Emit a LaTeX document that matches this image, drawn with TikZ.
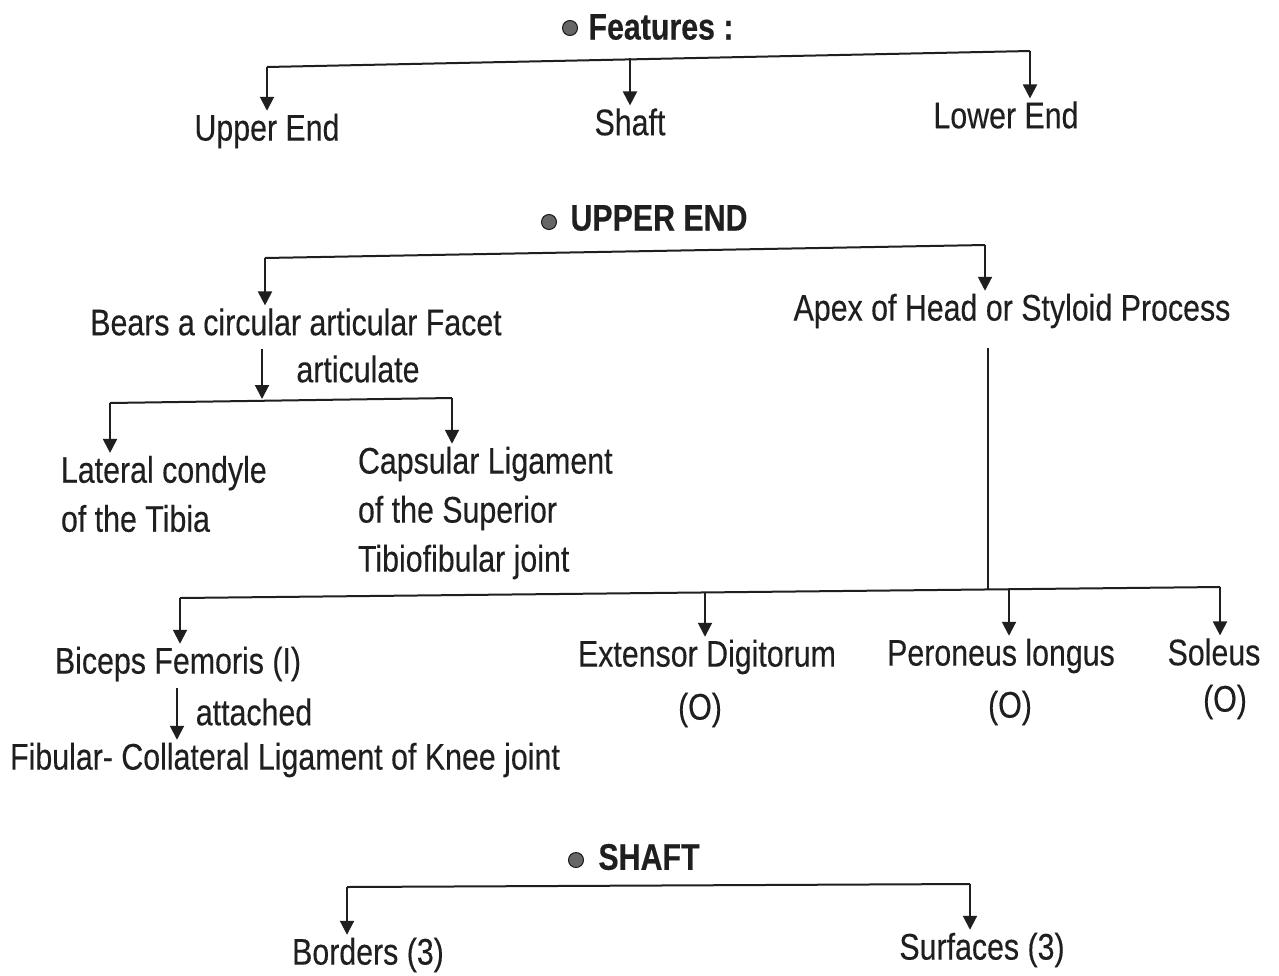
\documentclass[tikz,border=0pt]{standalone}
\usepackage{fontspec}
\newfontfamily\nar[FakeStretch=0.82,FakeBold=0.3]{Liberation Sans}
\usetikzlibrary{arrows.meta,calc}
\begin{document}
\begin{tikzpicture}[x=1pt,y=-1pt,
  txt/.style={font=\nar\fontsize{37}{49}\selectfont, inner sep=0pt, outer sep=3pt, text=black!88},
  hd/.style={font=\nar\bfseries\fontsize{37}{49}\selectfont, inner sep=0pt, outer sep=3pt, text=black!88},
  bul/.style={circle, fill=black!60, draw=black!90, line width=1pt, inner sep=0pt, minimum size=15pt},
  ln/.style={line width=2pt, draw=black!88},
  arr/.style={ln, -{Triangle[width=14pt,length=14pt]}}]
\useasboundingbox[fill=white] (0,0) rectangle (1279,975);

% ---------- Features ----------
\node[bul] (b1) at (570,28) {};
\node[hd] (feat) at (661,27) {Features :};
\node[txt] (up) at (267,131) {Upper End};
\node[txt] (sh) at (630,122) {Shaft};
\node[txt] (lo) at (1006,115) {Lower End};
\coordinate (fl) at (267,67);
\coordinate (fm) at (630,58);
\coordinate (fr) at (1030,51);
\draw[ln] (fl) -- (fr);
\draw[arr] (fl) -- (fl |- up.north);
\draw[arr] (fm) -- (fm |- sh.north);
\draw[arr] (fr) -- (fr |- lo.north);

% ---------- Upper end ----------
\node[bul] (b2) at (549,222) {};
\node[hd] (ue) at (659,218) {UPPER END};
\node[txt] (bears) at (296,322) {Bears a circular articular Facet};
\node[txt] (apex) at (1012,311) {Apex of Head or Styloid Process};
\coordinate (ul) at (265,258);
\coordinate (ur) at (985,245);
\draw[ln] (ul) -- (ur);
\draw[arr] (ul) -- (ul |- bears.north);
\draw[arr] (ur) -- (ur |- apex.north);

\node[txt] (artic) at (358,369) {articulate};
\coordinate (ab) at (262,399);
\coordinate (al) at (110,403);
\coordinate (ar) at (452,398);
\draw[arr] ([yshift=-10pt]bears.south -| ab) -- (ab);
\draw[ln] (al) -- (ar);
\node[txt, anchor=west, align=left] (lat) at (58,494) {Lateral condyle\\of the Tibia};
\node[txt, anchor=west, align=left] (cap) at (355,513) {Capsular Ligament\\of the Superior\\Tibiofibular joint};
\draw[arr] (al) -- (al |- lat.north);
\draw[arr] (ar) -- (ar |- cap.north);

% ---------- muscles ----------
\coordinate (mt) at (988,590);
\coordinate (ml) at (180,598);
\coordinate (mr) at (1220,587);
\coordinate (me) at (705,593);
\coordinate (mp) at (1009,590);
\draw[ln] ([yshift=-17pt]apex.south -| mt) -- (mt);
\draw[ln] (ml) -- (mr);
\node[txt] (bic) at (178,664) {Biceps Femoris (I)};
\node[txt] (att) at (254,712) {attached};
\node[txt] (fib) at (285,760) {Fibular- Collateral Ligament of Knee joint};
\node[txt] (ext) at (707,657) {Extensor Digitorum};
\node[txt] (exto) at (700,710) {(O)};
\node[txt] (per) at (1001,656) {Peroneus longus};
\node[txt] (pero) at (1010,708) {(O)};
\node[txt] (sol) at (1214,652) {Soleus};
\node[txt] (solo) at (1225,702) {(O)};
\draw[arr] (ml) -- (ml |- bic.north);
\draw[arr] (me) -- (me |- ext.north);
\draw[arr] (mp) -- (mp |- per.north);
\draw[arr] (mr) -- (mr |- sol.north);
\draw[arr] ([xshift=-1pt,yshift=-4pt]bic.south) -- ([xshift=-1pt]bic.south |- fib.north);

% ---------- Shaft ----------
\node[bul] (b3) at (576,860) {};
\node[hd] (shh) at (649,857) {SHAFT};
\node[txt] (bor) at (368,955) {Borders (3)};
\node[txt] (sur) at (982,950) {Surfaces (3)};
\coordinate (sl) at (347,887);
\coordinate (sr) at (970,884);
\draw[ln] (sl) -- (sr);
\draw[arr] (sl) -- (sl |- bor.north);
\draw[arr] (sr) -- (sr |- sur.north);
\end{tikzpicture}
\end{document}
